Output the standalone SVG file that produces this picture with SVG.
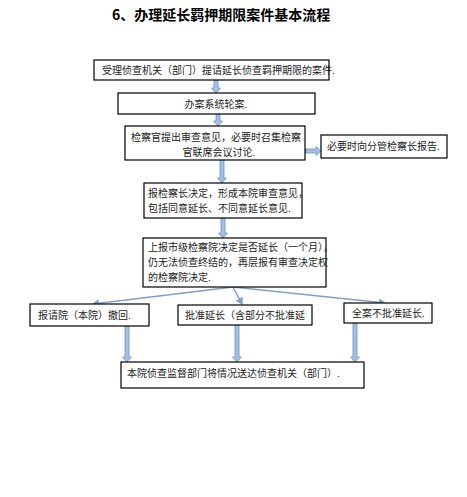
<svg xmlns="http://www.w3.org/2000/svg" width="467" height="497" viewBox="0 0 467 497">
<style>
.box{fill:#fff;stroke:#000;stroke-width:1.2}
.t{font-family:"Noto Sans CJK SC","Liberation Sans",sans-serif;font-size:10px;fill:#222}
.title{font-family:"Noto Sans CJK SC","Liberation Sans",sans-serif;font-size:14px;font-weight:bold;fill:#000}
.blk{fill:#A3C0E4;stroke:#6E93C2;stroke-width:0.8}
.ln{stroke:#7E9FCB;stroke-width:1.5;fill:none;marker-end:url(#ah)}
</style>
<defs>
<marker id="ah" markerWidth="8" markerHeight="8" refX="6" refY="4" orient="auto" markerUnits="userSpaceOnUse">
<path d="M0,0 L7,4 L0,8 Z" fill="#7E9FCB"/>
</marker>
</defs>
<rect width="467" height="497" fill="#fff"/>
<text class="title" x="112" y="20">6、办理延长羁押期限案件基本流程</text>

<g id="connectors">
<path class="blk" d="M214 80 L218 80 L218 88 L220.5 88 L216 93 L211.5 88 L214 88 Z"/>
<path class="blk" d="M216 114 L220 114 L220 121 L222.5 121 L218 126 L213.5 121 L216 121 Z"/>
<path class="blk" d="M220 160 L224 160 L224 178 L226.5 178 L222 183 L217.5 178 L220 178 Z"/>
<path class="blk" d="M221 218 L225 218 L225 233 L227.5 233 L223 238 L218.5 233 L221 233 Z"/>
<path class="blk" d="M305 149 L316 149 L316 146.5 L321 151 L316 155.5 L316 153 L305 153 Z"/>
<path class="blk" d="M125 326 L129 326 L129 357 L131.5 357 L127 362 L122.5 357 L125 357 Z"/>
<path class="blk" d="M235 325 L239 325 L239 357 L241.5 357 L237 362 L232.5 357 L235 357 Z"/>
<path class="blk" d="M353 323 L357 323 L357 357 L359.5 357 L355 362 L350.5 357 L353 357 Z"/>
<line class="ln" x1="233" y1="287" x2="93" y2="304"/>
<line class="ln" x1="233" y1="287" x2="242" y2="304"/>
<line class="ln" x1="233" y1="287" x2="385" y2="303"/>
</g>

<g id="n1"><rect class="box" x="94" y="60" width="235" height="20"/><text class="t" x="102" y="74">受理侦查机关（部门）提请延长侦查羁押期限的案件.</text></g>
<g id="n2"><rect class="box" x="118" y="93" width="197" height="21"/><text class="t" x="216" y="108" text-anchor="middle">办案系统轮案.</text></g>
<g id="n3"><rect class="box" x="125" y="126" width="180" height="34"/><text class="t" x="131" y="141">检察官提出审查意见，必要时召集检察</text><text class="t" x="219" y="156" text-anchor="middle">官联席会议讨论.</text></g>
<g id="n3b"><rect class="box" x="321" y="135" width="126" height="23"/><text class="t" x="327" y="150">必要时向分管检察长报告.</text></g>
<g id="n4"><rect class="box" x="144" y="183" width="158" height="35"/><text class="t" x="148" y="197">报检察长决定，形成本院审查意见，</text><text class="t" x="148" y="212">包括同意延长、不同意延长意见.</text></g>
<g id="n5"><rect class="box" x="143" y="238" width="183" height="49"/><text class="t" x="148" y="251">上报市级检察院决定是否延长（一个月），</text><text class="t" x="148" y="266">仍无法侦查终结的，再层报有审查决定权</text><text class="t" x="148" y="281">的检察院决定.</text></g>
<g id="n6"><rect class="box" x="30" y="304" width="119" height="22"/><text class="t" x="38" y="319">报请院（本院）撤回.</text></g>
<g id="n7"><rect class="box" x="178" y="305" width="134" height="20"/><text class="t" x="185" y="319">批准延长（含部分不批准延</text></g>
<g id="n8"><rect class="box" x="344" y="303" width="88" height="20"/><text class="t" x="352" y="317">全案不批准延长.</text></g>
<g id="n9"><rect class="box" x="121" y="362" width="243" height="26"/><text class="t" x="127" y="377">本院侦查监督部门将情况送达侦查机关（部门）.</text></g>
</svg>
